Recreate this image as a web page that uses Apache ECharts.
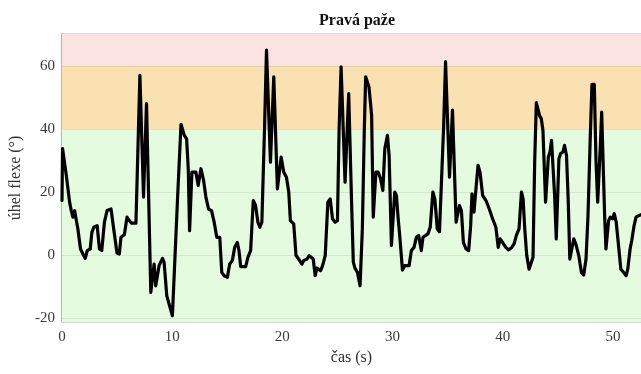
<!DOCTYPE html>
<html>
<head>
<meta charset="utf-8">
<script src="https://cdn.jsdelivr.net/npm/echarts@6/dist/echarts.min.js"></script>
<style>html,body{margin:0;padding:0;background:#fff}#c{width:641px;height:374px}</style>
</head>
<body>
<div id="c"></div>
<script>
const titleText = 'Pravá paže';
const xName = 'čas (s)';
const yName = 'úhel flexe (°)';
const xTicks = [0, 10, 20, 30, 40, 50];
const yTicks = [-20, 0, 20, 40, 60];
const bands = [[-21.3, 40], [40, 60], [60, 70.2]];
const bandColors = ['#e4fbdf', '#f9e1b1', '#fbe3e3'];

const time = [0, 0.05, 0.39, 0.69, 0.84, 0.99, 1.14, 1.29, 1.44, 1.68, 1.90, 2.11, 2.29, 2.56, 2.71, 2.89, 3.19, 3.40, 3.61, 3.85, 4.09, 4.45, 4.69, 4.99, 5.20, 5.35, 5.66, 5.90, 6.11, 6.32, 6.71, 7.07, 7.22, 7.40, 7.52, 7.67, 7.79, 8.06, 8.21, 8.36, 8.51, 8.66, 8.81, 9.12, 9.27, 9.51, 9.72, 10.02, 10.2, 10.50, 10.80, 10.95, 11.10, 11.31, 11.46, 11.58, 11.64, 11.79, 12.15, 12.36, 12.45, 12.61, 12.85, 13.06, 13.30, 13.57, 13.81, 14.05, 14.32, 14.50, 14.71, 15.01, 15.22, 15.46, 15.67, 15.91, 16.06, 16.22, 16.67, 16.88, 17.12, 17.36, 17.57, 17.78, 17.96, 18.14, 18.38, 18.56, 18.71, 18.92, 19.01, 19.22, 19.34, 19.55, 19.71, 19.89, 20.13, 20.37, 20.58, 20.73, 21.03, 21.24, 21.48, 21.78, 21.93, 22.23, 22.44, 22.62, 22.80, 22.98, 23.13, 23.29, 23.47, 23.65, 23.89, 24.13, 24.34, 24.55, 24.79, 25.00, 25.15, 25.33, 25.48, 25.69, 25.84, 26.02, 26.14, 26.29, 26.44, 26.59, 26.81, 27.05, 27.26, 27.44, 27.56, 27.74, 27.86, 28.01, 28.10, 28.25, 28.34, 28.49, 28.70, 28.91, 29.12, 29.30, 29.54, 29.69, 29.90, 30.05, 30.20, 30.35, 30.50, 30.65, 30.90, 31.11, 31.50, 31.71, 31.95, 32.16, 32.37, 32.61, 32.76, 33.00, 33.21, 33.42, 33.66, 33.84, 34.06, 34.26, 34.42, 34.63, 34.81, 34.96, 35.17, 35.29, 35.44, 35.56, 35.77, 35.86, 36.07, 36.25, 36.43, 36.67, 36.91, 37.09, 37.21, 37.39, 37.57, 37.76, 37.94, 38.18, 38.48, 38.78, 39.08, 39.38, 39.59, 39.77, 39.98, 40.28, 40.52, 40.82, 41.03, 41.24, 41.48, 41.70, 41.85, 42.00, 42.18, 42.39, 42.60, 42.75, 42.90, 43.05, 43.20, 43.35, 43.50, 43.65, 43.80, 43.89, 43.98, 44.14, 44.29, 44.43, 44.58, 44.71, 44.86, 44.95, 45.10, 45.25, 45.46, 45.61, 45.79, 45.94, 46.09, 46.24, 46.45, 46.66, 46.90, 47.14, 47.35, 47.56, 47.74, 47.95, 48.10, 48.31, 48.47, 48.62, 48.71, 48.86, 48.98, 49.10, 49.25, 49.37, 49.46, 49.61, 49.76, 49.97, 50.12, 50.30, 50.51, 50.72, 50.96, 51.20, 51.35, 51.56, 51.71, 51.92, 52.10, 52.35, 52.55];

const angle = [17.3, 33.8, 25.3, 16.8, 14.1, 12, 14.1, 14.1, 8.3, 1.9, 0.3, -1.1, 1.4, 1.9, 7.2, 8.8, 9.3, 1.9, 1.4, 10.4, 14.1, 14.6, 8.3, 0.6, 0.3, 5.6, 6.4, 12, 10.9, 10.1, 10.1, 57.1, 57.1, 18.4, 18.4, 48.1, 48.1, -11.9, -11.9, -2.9, -9.8, -9.8, -3.4, -1.1, -2.4, -13, -15.6, -19.3, -19.5, 18.9, 41.5, 41.2, 38, 36.9, 27.4, 7.7, 7.7, 26.3, 26.3, 22.1, 22.1, 27.4, 23.7, 18.4, 14.6, 14.1, 10.4, 5.6, 5.6, -5.5, -6.6, -7.1, -2.9, -1.8, 2.4, 4, 1.4, -3.7, -3.7, -0.7, 1.4, 17.3, 15.7, 10.4, 8.8, 10.4, 40.1, 65.1, 65.1, 29.5, 29.5, 56.6, 56.6, 21, 21, 31.1, 26.3, 24.7, 20, 10.9, 9.9, -0.2, -1.3, -2.9, -1.8, -1.3, -0.2, -0.2, -1.3, -6.6, -4.2, -3.9, -5, -3.4, -0.2, 16.8, 17.8, 11.5, 10.4, 10.9, 40.1, 59.8, 59.8, 23.1, 23.1, 51.3, 51.3, 15.7, -2.3, -4.2, -5.5, -9.8, 8.3, 40.1, 56.6, 56, 53.4, 52.9, 44.4, 12, 12, 26.3, 26.3, 24.2, 20.5, 33.8, 38, 31.6, 3, 3, 20, 18.9, 12, 6.2, -4.8, -3.4, -3.4, 1.4, 2.4, 5.6, 6.2, 1.4, 5.6, 6.2, 6.7, 8.8, 20, 17.8, 8.3, 7.4, 7.7, 40.1, 61.4, 61.4, 24.7, 24.7, 46, 46, 10.4, 10.4, 15.7, 14.1, 4, 1.9, 1.4, 9.3, 19.4, 13.6, 21, 28.5, 26.3, 18.9, 17.3, 14.6, 11.5, 8.8, 2.4, 5.1, 4, 2.4, 1.6, 2.4, 3.5, 6.2, 8.3, 20, 17.8, 8.3, -0.2, -4.5, -2.3, -0.7, 29.5, 48.4, 48.1, 44.2, 43.3, 39.6, 25.3, 16.8, 16.8, 31.1, 32.7, 36.4, 35.9, 18.9, 5.1, 5.1, 30.6, 32.2, 32.7, 34.8, 31.6, 17.8, -1.3, -1.3, 5.1, 3.2, -0.2, -5.5, -6.4, -1.3, 12.5, 38, 54.2, 54.2, 29.5, 16.8, 16.8, 34.8, 45.4, 45.4, 12.5, 1.9, 1.9, 10.9, 12, 11.5, 13.1, 10.4, 3, -4.5, -5.5, -6.6, -4.5, 1.9, 4.6, 9.3, 12, 12.5, 12.8];

const xMin = 0, xMax = 52.55;
const yMin = -21.3, yMax = 70.2;

const data = time.map((t, i) => [t, angle[i]]);
const serif = '"Liberation Serif", "DejaVu Serif", serif';

const chart = echarts.init(document.getElementById('c'), null, {renderer: 'canvas'});
chart.setOption({
  animation: false,
  backgroundColor: '#ffffff',
  title: {
    text: titleText, left: 352, top: 8, textAlign: 'center',
    textStyle: {fontFamily: serif, fontSize: 16, fontWeight: 'bold', color: '#111'}
  },
  grid: {left: 62, right: -2, top: 34, bottom: 52, show: true, borderColor: '#b4b4b4', borderWidth: 1, backgroundColor: 'transparent'},
  xAxis: {
    type: 'value', min: xMin, max: xMax, interval: 10,
    name: xName, nameLocation: 'middle', nameGap: 26,
    nameTextStyle: {fontFamily: serif, fontSize: 16, color: '#333'},
    axisLine: {show: true, lineStyle: {color: '#a8a8a8', width: 1.5}},
    axisTick: {show: true, inside: true, length: 3, lineStyle: {color: '#aaa'}},
    axisLabel: {fontFamily: serif, fontSize: 15, color: '#3a3a3a', margin: 8, showMaxLabel: false,
      formatter: v => (xTicks.indexOf(v) >= 0 ? String(v) : '')},
    splitLine: {show: true, lineStyle: {color: 'rgba(0,0,0,0.08)', width: 1}}
  },
  yAxis: {
    type: 'value', min: yMin, max: yMax,
    name: yName, nameLocation: 'middle', nameGap: 36,
    nameTextStyle: {fontFamily: serif, fontSize: 16, color: '#333'},
    axisLine: {show: true, lineStyle: {color: '#a8a8a8', width: 1.5}},
    axisTick: {show: true, inside: true, length: 3, lineStyle: {color: '#aaa'}, customValues: yTicks},
    axisLabel: {fontFamily: serif, fontSize: 15, color: '#3a3a3a', margin: 7, customValues: yTicks},
    splitLine: {show: false}
  },
  series: [{
    type: 'line', data: data, showSymbol: false, symbol: 'none',
    lineStyle: {color: '#000', width: 3.2, join: 'round', cap: 'round'}, z: 5, clip: true,
    markArea: {
      silent: true,
      data: bands.map((b, i) => [{yAxis: b[0], itemStyle: {color: bandColors[i]}}, {yAxis: b[1]}])
    },
    markLine: {
      silent: true, symbol: 'none', label: {show: false},
      lineStyle: {color: 'rgba(0,0,0,0.08)', type: 'solid', width: 1},
      data: yTicks.map(v => ({yAxis: v}))
    }
  }]
});
</script>
</body>
</html>
